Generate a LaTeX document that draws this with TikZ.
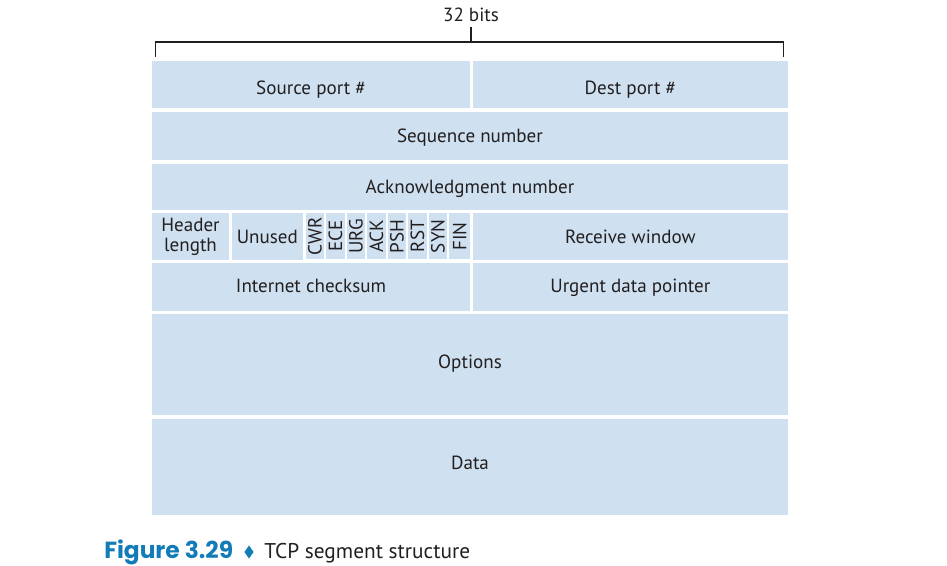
\documentclass[tikz,border=0pt]{standalone}
\usepackage{fontspec}
\usetikzlibrary{shapes.geometric}
\setmainfont{PT Sans}
\newfontfamily\capfont{Poppins Bold}
\definecolor{cellblue}{HTML}{CFE1F0}
\definecolor{txt}{HTML}{231F20}
\definecolor{figblue}{HTML}{127CB8}
\tikzset{
  cell/.style={fill=cellblue, draw=none, inner sep=0pt, text=txt, font=\fontsize{14.3}{15}\selectfont, align=center},
  base/.style={text height=#1, text depth=0pt},
  bracketline/.style={draw=txt, line width=0.9pt},
}
\newcommand{\fld}[7][]{\node[cell, #1, minimum width={(#5-#3)*0.75pt}, minimum height={(#6-#4)*0.75pt}] (#2) at ({(#3+#5)/2},{(#4+#6)/2}) {#7};}
\newcommand{\flg}[4]{\node[cell, rotate=90, minimum height={(#3-#2)*0.75pt}, minimum width={46*0.75pt}] (#1) at ({(#2+#3)/2},236.3) {#4};}
\begin{document}
\begin{tikzpicture}[x=0.75pt,y=-0.75pt]
\useasboundingbox (0,0) rectangle (947,565);
% bracket
\node[text=txt, font=\fontsize{14.3}{15}\selectfont] (bits) at (471,15) {32 bits};
\coordinate (bl) at (155.5,57);
\coordinate (blt) at (155.5,42);
\coordinate (brt) at (783.5,42);
\coordinate (br) at (783.5,57);
\coordinate (tick) at (471,42);
\coordinate (ticktop) at (471,27);
\draw[bracketline] (bl) -- (blt) -- (brt) -- (br);
\draw[bracketline] (tick) -- (ticktop);
% rows
\fld[base=14.5pt]{src}{152}{61}{470}{107.7}{Source port \#}
\fld[base=14.5pt]{dst}{472.7}{61}{788}{107.7}{Dest port \#}
\fld[base=10.4pt]{seq}{152}{112}{788}{159.5}{Sequence number}
\fld[base=10.4pt]{ack}{152}{163.5}{788}{210}{Acknowledgment number}
\fld{hlen}{152}{213.3}{229}{259.5}{Header\\length}
\fld[base=10.4pt]{unused}{232}{213.3}{302.7}{259.5}{Unused}
\flg{cwr}{305.7}{324}{CWR}
\flg{ece}{326.2}{344.5}{ECE}
\flg{urg}{346.7}{365}{URG}
\flg{ackf}{367.2}{385.5}{ACK}
\flg{psh}{387.7}{406}{PSH}
\flg{rst}{408.2}{426.5}{RST}
\flg{syn}{428.7}{447}{SYN}
\flg{fin}{449.2}{470}{FIN}
\fld[base=10.4pt]{rwnd}{472.7}{213.3}{788}{259.5}{Receive window}
\fld[base=8.6pt]{csum}{152}{263.3}{470}{310.7}{Internet checksum}
\fld[base=8.6pt]{urgp}{472.7}{263.3}{788}{310.7}{Urgent data pointer}
\fld[base=5.5pt]{opts}{152}{314}{788}{414.7}{Options}
\fld[base=3.4pt]{data}{152}{418.5}{788}{515}{Data}
% caption
\node[anchor=base west, inner sep=0pt, text=figblue, font=\capfont\fontsize{17.5}{18}\selectfont] (fig) at (104,558) {Figure 3.29};
\node[diamond, fill=figblue, inner sep=0pt, minimum width=7pt, minimum height=10pt] (dia) at (249,552) {};
\node[anchor=base west, inner sep=0pt, text=txt, font=\fontsize{16}{17}\selectfont] (cap) at (264,558) {TCP segment structure};
\end{tikzpicture}
\end{document}
